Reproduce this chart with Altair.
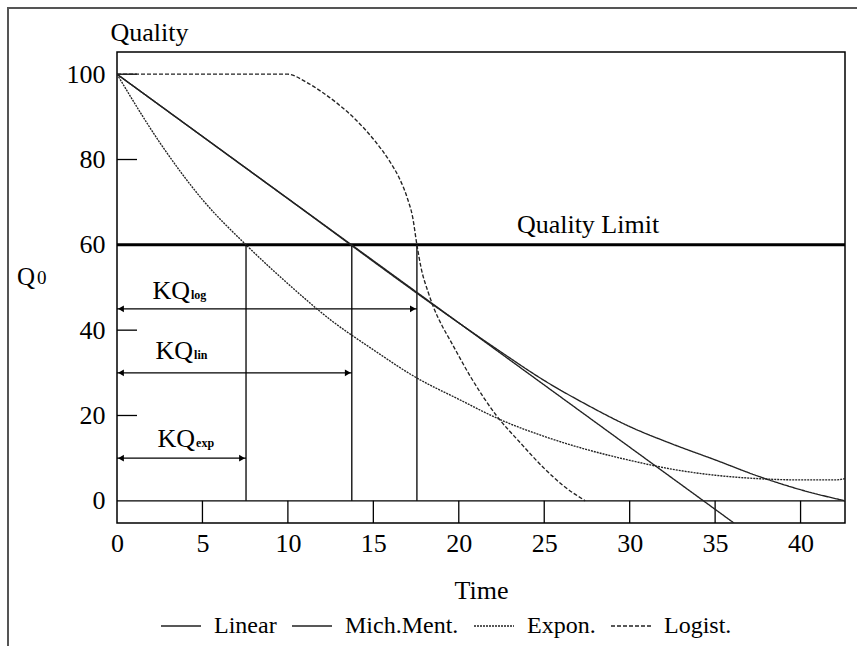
import altair as alt
import pandas as pd

FONT = "Liberation Serif"
INK = "#222222"

# Plot area in pixels
W, H = 728, 471

# Quality curves (time, quality)
linear_t = [0, 36.1]
linear_q = [100, -5.2]

mm_t = [0, 10, 20, 22.5, 25, 27.5, 30, 32.5, 35, 37.5, 40, 42.6]
mm_q = [100, 70.8, 41.7, 34.8, 28.2, 22.5, 17.4, 13.3, 9.6, 5.8, 2.6, 0]

exp_t = [0, 2.5, 5, 7.55, 10, 12.5, 15, 17.5, 20, 22.5, 25, 27.5, 30, 32.5, 35, 37.5, 40, 42, 42.6]
exp_q = [100, 84, 70.6, 60, 50.9, 42.4, 35.4, 28.9, 23.8, 18.9, 15.1, 12.0, 9.5, 7.4, 6.0, 5.2, 4.9, 4.9, 5.2]

log_t = [0, 10, 11, 12, 13, 14, 15, 16, 16.5, 17, 17.3, 17.55, 17.8, 18.2, 18.5, 19, 19.5,
         20.7, 22.2, 23.6, 25, 26.1, 27.4]
log_q = [100, 100, 98.3, 95.8, 92.8, 89.2, 84.8, 79.3, 75.8, 70.8, 66.5, 60, 54.5, 49, 45.6, 41.2, 37.6,
         29, 20, 13.6, 7.6, 3.6, 0]

models = ["Linear", "Mich.Ment.", "Expon.", "Logist."]
dashes = [[1, 0], [1, 0], [2, 1], [4, 2]]

# Shelf-life times where each model reaches the quality limit
limit_q = 60
kq_names = ["log", "lin", "exp"]
kq_time = [17.55, 13.74, 7.55]
kq_arrow_q = [45, 30, 10]
kq_label_t = [4.27, 4.45, 4.57]
kq_label_q = [47.3, 33.3, 12.6]

x_ticks = [0, 5, 10, 15, 20, 25, 30, 35, 40]
y_ticks = [0, 20, 40, 60, 80, 100]

curves = pd.concat([
    pd.DataFrame({"t": linear_t, "q": linear_q, "model": "Linear"}),
    pd.DataFrame({"t": mm_t, "q": mm_q, "model": "Mich.Ment."}),
    pd.DataFrame({"t": exp_t, "q": exp_q, "model": "Expon."}),
    pd.DataFrame({"t": log_t, "q": log_q, "model": "Logist."}),
], ignore_index=True)

xscale = alt.Scale(domain=[0, 42.6], nice=False, zero=False)
yscale = alt.Scale(domain=[-5.2, 105.2], nice=False, zero=False)

xaxis = alt.Axis(values=x_ticks, labelFont=FONT, labelFontSize=26, labelColor="black",
                 ticks=False, tickSize=0, domain=False, grid=False, labelPadding=7,
                 labelFlush=False, labelOverlap=False,
                 title="Time", titleFont=FONT, titleFontSize=26, titleFontWeight="normal",
                 titleColor="black", titleY=75, titleBaseline="alphabetic")
yaxis = alt.Axis(values=y_ticks, labelFont=FONT, labelFontSize=26, labelColor="black",
                 ticks=False, tickSize=0, domain=False, grid=False, labelPadding=12,
                 labelFlush=False, labelOverlap=False,
                 title="Quality", titleFont=FONT, titleFontSize=26, titleFontWeight="normal",
                 titleColor="black", titleAngle=0, titleX=-7, titleY=-12,
                 titleAlign="left", titleBaseline="alphabetic")


def X(field):
    return alt.X(f"{field}:Q", scale=xscale, axis=xaxis)


def Y(field):
    return alt.Y(f"{field}:Q", scale=yscale, axis=yaxis)


lines = alt.Chart(curves).mark_line(interpolate="monotone", strokeWidth=1.35, color=INK, clip=True).encode(
    x=X("t"), y=Y("q"),
    strokeDash=alt.StrokeDash("model:N", scale=alt.Scale(domain=models, range=dashes),
                              legend=alt.Legend(title=None, orient="none", legendX=43, legendY=553,
                                                direction="horizontal", symbolType="stroke",
                                                symbolSize=1600, symbolStrokeWidth=1.3,
                                                symbolStrokeColor=INK, labelFont=FONT,
                                                labelFontSize=24, labelColor="black",
                                                labelOffset=12, columnPadding=12)),
)

# Horizontal baseline at zero and axis tick marks inside the frame
zero_df = pd.DataFrame({"q": [0]})
zero_line = alt.Chart(zero_df).mark_rule(color="black", strokeWidth=1.3).encode(
    y=Y("q"), x=alt.value(0), x2=alt.value(W))

xt_df = pd.DataFrame({"t": x_ticks[1:], "q": [0] * (len(x_ticks) - 1)})
x_tick_marks = alt.Chart(xt_df).mark_rule(color="black", strokeWidth=1.3).encode(
    x=X("t"), y=Y("q"), y2=alt.value(H))

yt_df = pd.DataFrame({"q": y_ticks[1:]})
y_tick_marks = alt.Chart(yt_df).mark_rule(color="black", strokeWidth=1.3).encode(
    y=Y("q"), x=alt.value(0), x2=alt.value(20))

# Quality limit
lim_df = pd.DataFrame({"t": [0], "t2": [42.6], "q": [limit_q], "label": ["Quality Limit"], "lt": [23.4]})
limit_line = alt.Chart(lim_df).mark_rule(color="black", strokeWidth=3).encode(
    x=X("t"), x2="t2:Q", y=Y("q"))
limit_text = alt.Chart(lim_df).mark_text(align="left", baseline="alphabetic", dy=-12,
                                         font=FONT, fontSize=26, color="black").encode(
    x=X("lt"), y=Y("q"), text="label:N")

# Drop lines from the limit to the time axis
kq_df = pd.DataFrame({"t0": [0] * 3, "t": kq_time, "q0": [0] * 3, "qlim": [limit_q] * 3,
                      "qa": kq_arrow_q, "lt": kq_label_t, "lq": kq_label_q, "sub": kq_names})
drops = alt.Chart(kq_df).mark_rule(color="black", strokeWidth=1.3).encode(
    x=X("t"), y=Y("qlim"), y2="q0:Q")

arrows = alt.Chart(kq_df).mark_rule(color="black", strokeWidth=1.3).encode(
    x=X("t0"), x2="t:Q", y=Y("qa"))
heads_l = alt.Chart(kq_df).mark_point(shape="triangle-left", filled=True, size=45, opacity=1,
                                      color="black", xOffset=4).encode(x=X("t0"), y=Y("qa"))
heads_r = alt.Chart(kq_df).mark_point(shape="triangle-right", filled=True, size=45, opacity=1,
                                      color="black", xOffset=-4).encode(x=X("t"), y=Y("qa"))

kq_text = alt.Chart(kq_df).mark_text(text="KQ", align="right", baseline="alphabetic",
                                     font=FONT, fontSize=26, color="black").encode(
    x=X("lt"), y=Y("lq"))
kq_sub = alt.Chart(kq_df).mark_text(align="left", baseline="alphabetic", dx=1, font=FONT,
                                    fontSize=12, fontWeight="bold", color="black").encode(
    x=X("lt"), y=Y("lq"), text="sub:N")

# Side label Q0
one = pd.DataFrame({"a": [0]})
q_main = alt.Chart(one).mark_text(text="Q", align="left", baseline="alphabetic", font=FONT,
                                  fontSize=25, color="black").encode(x=alt.value(-100), y=alt.value(233))
q_sub = alt.Chart(one).mark_text(text="0", align="left", baseline="alphabetic", font=FONT,
                                 fontSize=19, color="black").encode(x=alt.value(-80), y=alt.value(232))

# Outer page frame
frame = alt.Chart(one).mark_rect(filled=False, stroke="#555555", strokeWidth=2).encode(
    x=alt.value(-109), x2=alt.value(W + 40), y=alt.value(-44), y2=alt.value(H + 170))

chart = alt.layer(
    frame, zero_line, x_tick_marks, y_tick_marks, drops, limit_line, limit_text,
    arrows, heads_l, heads_r, kq_text, kq_sub, lines, q_main, q_sub,
).properties(
    width=W, height=H,
    autosize=alt.AutoSizeParams(type="none"),
    padding={"left": 117, "top": 52, "right": 12, "bottom": 123},
    background="white",
).configure_view(stroke="black", strokeWidth=1.5)

chart.save("out.html", embed_options={"renderer": "svg", "actions": False})
